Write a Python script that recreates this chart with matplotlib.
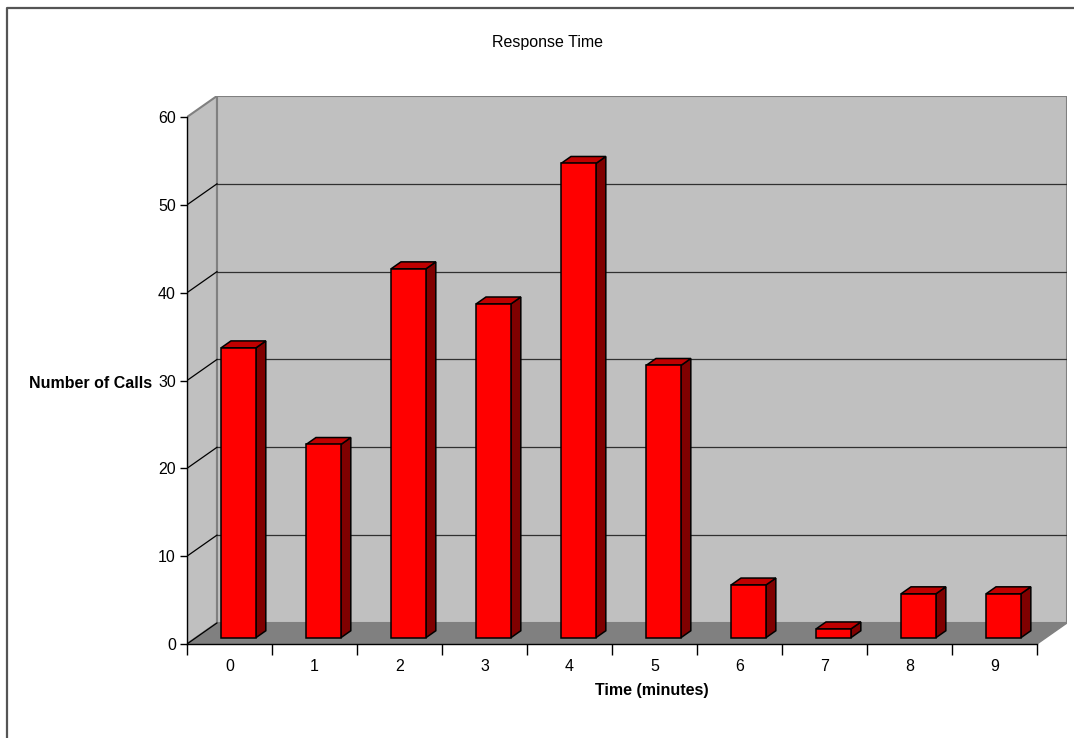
import matplotlib
matplotlib.use("Agg")
import matplotlib.pyplot as plt
from matplotlib.patches import Polygon
from matplotlib.lines import Line2D

plt.rcParams['font.family'] = ['Liberation Sans', 'DejaVu Sans']

categories = ['0', '1', '2', '3', '4', '5', '6', '7', '8', '9']
calls = [33, 22, 42, 38, 54, 31, 6, 1, 5, 5]
y_ticks = [0, 10, 20, 30, 40, 50, 60]
title = "Response Time"
x_label = "Time (minutes)"
y_label = "Number of Calls"

W, H = 1074, 738
fig = plt.figure(figsize=(W / 100, H / 100), dpi=100)

FS = 11.5

# oblique depth offset in data units
DX = 0.3525
DY = 2.395
YMAX = 60
n = len(categories)

ax = fig.add_axes([187 / W, (H - 644) / H, (1067 - 187) / W, (644 - 96) / H])
ax.set_xlim(0, n + DX)
ax.set_ylim(0, YMAX + DY)
ax.set_facecolor('none')

wall = '#C0C0C0'
floor = '#808080'
edge = '#808080'

# back wall
ax.add_patch(Polygon([(DX, DY), (n + DX, DY), (n + DX, YMAX + DY), (DX, YMAX + DY)],
                     closed=True, facecolor=wall, edgecolor=edge, lw=1.5, zorder=1))
# side wall
ax.add_patch(Polygon([(0, 0), (DX, DY), (DX, YMAX + DY), (0, YMAX)],
                     closed=True, facecolor=wall, edgecolor=edge, lw=1.5, zorder=1))
# gridlines
for v in y_ticks[1:-1]:
    ax.plot([DX, n + DX], [v + DY, v + DY], color='#303030', lw=0.9, zorder=2)
    ax.plot([0, DX], [v, v + DY], color='#000000', lw=0.9, zorder=2)
# floor
ax.add_patch(Polygon([(0, 0), (n, 0), (n + DX, DY), (DX, DY)],
                     closed=True, facecolor=floor, edgecolor=edge, lw=1, zorder=3))
ax.plot([0, DX], [0, DY], color='#000000', lw=0.9, zorder=3)

# bars
f0, f1 = 0.30, 0.63
bw = 0.41
for i, v in enumerate(calls):
    cx = i + 0.5
    x0 = cx - bw / 2 + f0 * DX
    x1 = cx + bw / 2 + f0 * DX
    y0 = f0 * DY
    ddx = (f1 - f0) * DX
    ddy = (f1 - f0) * DY
    front = [(x0, y0), (x1, y0), (x1, y0 + v), (x0, y0 + v)]
    top = [(x0, y0 + v), (x1, y0 + v), (x1 + ddx, y0 + v + ddy), (x0 + ddx, y0 + v + ddy)]
    side = [(x1, y0), (x1 + ddx, y0 + ddy), (x1 + ddx, y0 + v + ddy), (x1, y0 + v)]
    ax.add_patch(Polygon(side, closed=True, facecolor='#800000', edgecolor='black', lw=1.1, zorder=5))
    ax.add_patch(Polygon(top, closed=True, facecolor='#C00000', edgecolor='black', lw=1.1, zorder=5))
    ax.add_patch(Polygon(front, closed=True, facecolor='#FF0000', edgecolor='black', lw=1.1, zorder=6))

# axes
for s in ['top', 'right']:
    ax.spines[s].set_visible(False)
ax.spines['left'].set_bounds(0, YMAX)
ax.spines['bottom'].set_bounds(0, n)
ax.spines['left'].set_linewidth(1)
ax.spines['bottom'].set_linewidth(1)
ax.spines['left'].set_zorder(7)
ax.spines['bottom'].set_zorder(7)
ax.set_yticks(y_ticks)
ax.set_yticklabels([str(t) for t in y_ticks], fontsize=FS)
ax.tick_params(axis='y', direction='out', length=5, width=1, pad=3)
ax.set_xticks(range(n + 1))
ax.set_xticklabels([''] * (n + 1))
ax.set_xticks([i + 0.5 for i in range(n)], minor=True)
ax.set_xticklabels(categories, minor=True, fontsize=FS)
ax.tick_params(axis='x', which='major', direction='out', length=8, width=1)
ax.tick_params(axis='x', which='minor', length=0, pad=11)

fig.text(548 / W, 1 - 43 / H, title, ha='center', va='center', fontsize=FS)
fig.text(652 / W, 1 - 690 / H, x_label, ha='center', va='center', fontsize=FS, fontweight='bold')
fig.text(91 / W, 1 - 383 / H, y_label, ha='center', va='center', fontsize=FS, fontweight='bold')

# chart frame (partially visible)
fig.add_artist(Line2D([7.5 / W, 7.5 / W, 1.0], [0.0, 1 - 8 / H, 1 - 8 / H],
                      transform=fig.transFigure, color='#555555', lw=1.6))

fig.savefig('out.png', dpi=100)
